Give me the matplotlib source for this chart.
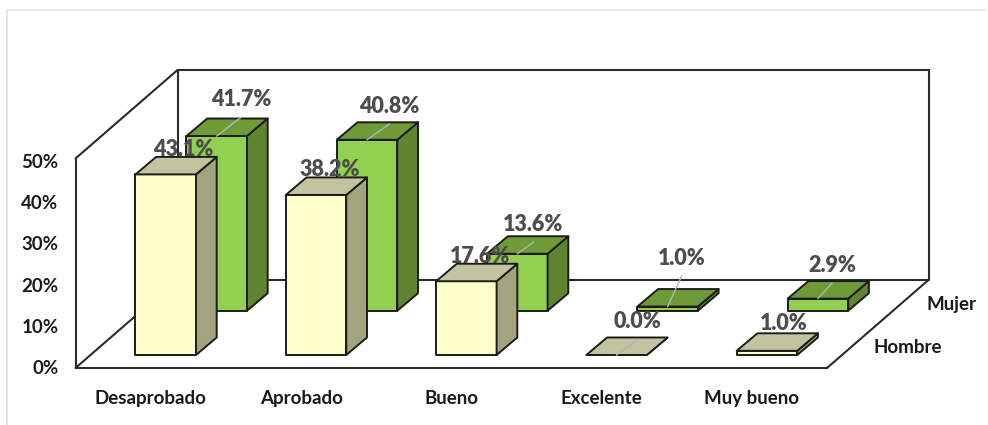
import matplotlib
matplotlib.use("Agg")
import matplotlib.pyplot as plt
from matplotlib.patches import Polygon

plt.rcParams['font.family'] = ['Lato', 'DejaVu Sans']

# data
categories = ["Desaprobado", "Aprobado", "Bueno", "Excelente", "Muy bueno"]
hombre = [43.1, 38.2, 17.6, 0.0, 1.0]
mujer = [41.7, 40.8, 13.6, 1.0, 2.9]
y_ticks = [0, 10, 20, 30, 40, 50]

# oblique projection, in pixels of the output picture
X0, Y0 = 75.5, 368.0        # front left floor corner
PX_PER_PCT = 4.19
TICK_PX_PER_PCT = 4.12      # tick labels sit a little tighter than the bars
CAT_STEP = 150.3
FLOOR_W = 751.5
FLOOR_DX, FLOOR_DY = 102.0, -88.5
BAR_X = 45.0                # gap from the floor corner to the first bar
BAR_W = 60.5
BAR_DX, BAR_DY = 20.7, -17.5
ROW_FRONT = 0.147           # share of the depth: hombre row
ROW_BACK = 0.647            # share of the depth: mujer row

# label offset from the top of the front face (dx, dy)
off_hombre = [(17.5, -24.5), (14, -25.5), (14, -24.5), (21, -33.5), (17, -27.5)]
off_mujer = [(24, -36.5), (22, -33.5), (16, -29.5), (14, -48.5), (14, -33.5)]

LINE = "#2b2b2b"
TEXT = "#1a1a1a"
LABEL = "#4d4d4d"


def pt(x, val=0.0, depth=0.0):
    return (X0 + x + FLOOR_DX * depth, Y0 - val * PX_PER_PCT + FLOOR_DY * depth)


def bar(ax, i, val, row, colors, z):
    left = BAR_X + CAT_STEP * i
    x0, y0 = pt(left, 0, row)
    x1, y1 = pt(left + BAR_W, val, row)
    front = [(x0, y0), (x1, y0), (x1, y1), (x0, y1)]
    top = [(x0, y1), (x1, y1), (x1 + BAR_DX, y1 + BAR_DY), (x0 + BAR_DX, y1 + BAR_DY)]
    side = [(x1, y0), (x1 + BAR_DX, y0 + BAR_DY), (x1 + BAR_DX, y1 + BAR_DY), (x1, y1)]
    for poly, c in zip((front, side, top), colors):
        ax.add_patch(Polygon(poly, closed=True, fc=c, ec="#1c1c1c", lw=1.4, joinstyle="round", zorder=z))
    return (x0 + x1) / 2, y1


def series(ax, values, offsets, row, colors, z):
    for i, (val, off) in enumerate(zip(values, offsets)):
        cx, ty = bar(ax, i, val, row, colors, z + 2)
        lx, ly = cx + off[0], ty + off[1]
        # leader line from the top face up to the label, only for the far labels
        if off[1] < -29:
            ax.plot([cx, lx], [ty, ly + 18], color="#b5b5b5", lw=1.0, zorder=z + 3)
        ax.text(lx, ly, f"{val:.1f}%", ha="center", va="center", fontsize=15.5, fontweight="heavy",
                color=LABEL, zorder=z + 1 if i < 3 else z + 4)


fig = plt.figure(figsize=(9.88, 4.25), dpi=100)
ax = fig.add_axes([0, 0, 1, 1])
ax.set_xlim(0, 988)
ax.set_ylim(425, 0)
ax.axis("off")

# frame of the picture
ax.plot([6.5, 6.5, 985], [425, 10, 10], color="#e4e4e4", lw=1.3, zorder=0)

# walls and floor
top_val = y_ticks[-1]
fl = pt(0)
fr = pt(FLOOR_W)
bl = pt(0, 0, 1)
br = pt(FLOOR_W, 0, 1)
tl = pt(0, top_val)
tb = pt(0, top_val, 1)
tr = pt(FLOOR_W, top_val, 1)
for a, b in [(fl, fr), (fr, br), (bl, br), (fl, bl), (fl, tl), (tl, tb), (bl, tb), (tb, tr), (tr, br)]:
    ax.plot([a[0], b[0]], [a[1], b[1]], color=LINE, lw=1.5, solid_capstyle="round", zorder=1)

series(ax, mujer, off_mujer, ROW_BACK, ("#92D050", "#5F8531", "#6F9A38"), 2)
series(ax, hombre, off_hombre, ROW_FRONT, ("#FFFFCC", "#A3A380", "#C3C39F"), 8)

for t in y_ticks:
    ax.text(X0 - 17, Y0 + 0.5 - t * TICK_PX_PER_PCT, f"{t}%", ha="right", va="center", fontsize=13.5,
            fontweight="bold", color=TEXT)

for i, c in enumerate(categories):
    x, y = pt(BAR_X + BAR_W / 2 + CAT_STEP * i)
    ax.text(x, y + 30.5, c, ha="center", va="center", fontsize=13.5, fontweight="bold", color=TEXT)

ax.text(908, 347.5, "Hombre", ha="center", va="center", fontsize=13.5, fontweight="bold", color=TEXT)
ax.text(951, 304.5, "Mujer", ha="center", va="center", fontsize=13.5, fontweight="bold", color=TEXT)

fig.savefig("out.png", dpi=100)
